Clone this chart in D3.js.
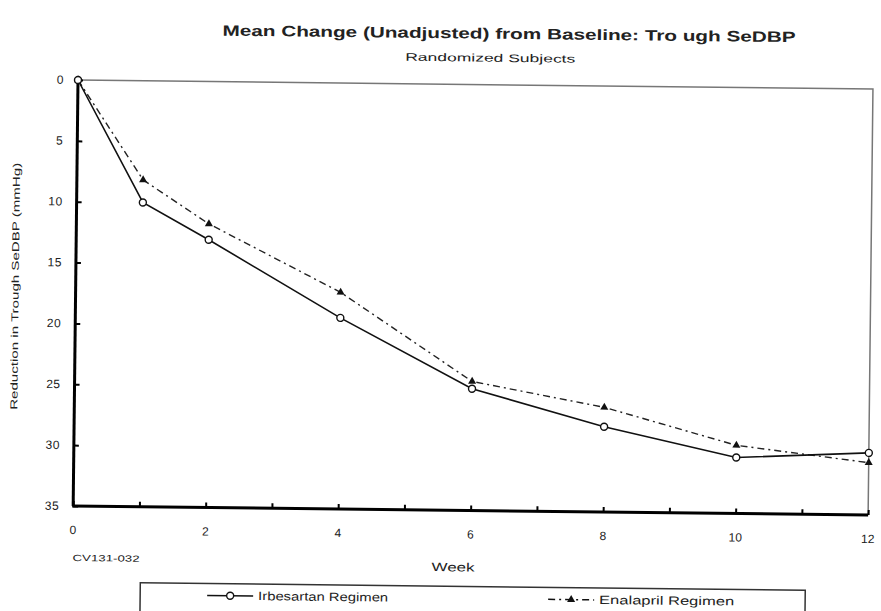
<!DOCTYPE html>
<html>
<head>
<meta charset="utf-8">
<script src="https://cdn.jsdelivr.net/npm/d3@7"></script>
<style>
  body { margin: 0; background: #fff; }
  text { font-family: "Liberation Sans", Arial, sans-serif; fill: #222; }
</style>
</head>
<body>
<div id="chart"></div>
<script>
// Data
var weeks = [0, 1, 2, 4, 6, 8, 10, 12];
var irbesartan = [0, 10.0, 13.0, 19.3, 25.0, 28.0, 30.4, 29.9];
var enalapril = [0, 8.15, 11.7, 17.2, 24.4, 26.4, 29.4, 30.7];
var seriesNames = ["Irbesartan Regimen", "Enalapril Regimen"];
var xTickLabels = [0, 2, 4, 6, 8, 10, 12];
var yTickLabels = [0, 5, 10, 15, 20, 25, 30, 35];

var width = 881;
var height = 611;

// plot box (window.top is taken, so prefix these)
var boxLeft = 78, boxTop = 80, boxRight = 873, boxBottom = 506;

var svg = d3.select("#chart")
    .append("svg")
    .attr("width", width)
    .attr("height", height);

// the scan is a little tilted, so the whole page is turned with it
var page = svg.append("g")
    .attr("transform", "rotate(0.65," + boxLeft + "," + boxTop + ")");

var x = d3.scaleLinear().domain([0, 12]).range([boxLeft, boxRight]);
var y = d3.scaleLinear().domain([0, 35]).range([boxTop, boxBottom]);

// the scanned lettering is wide, so stretch text to the widths seen
function addText(sel, str, px, size, len) {
    var t = sel.append("text")
        .attr("x", px[0])
        .attr("y", px[1])
        .style("font-size", size + "px")
        .text(str);
    if (len) t.attr("textLength", len).attr("lengthAdjust", "spacingAndGlyphs");
    return t;
}

// Title
addText(page, "Mean Change (Unadjusted) from Baseline: Tro ugh SeDBP", [222, 34], 15, 573)
    .style("font-weight", "bold");

addText(page, "Randomized Subjects", [405, 57], 11, 170);

// thin grey border on top and right
page.append("path")
    .attr("d", "M" + boxLeft + "," + boxTop + "H" + boxRight + "V" + boxBottom)
    .attr("fill", "none")
    .attr("stroke", "#777")
    .attr("stroke-width", 1.5);

// Axes
var xAxis = d3.axisTop(x)
    .tickValues(d3.range(0, 13))
    .tickSize(5)
    .tickFormat("");

var yAxis = d3.axisRight(y)
    .tickValues(yTickLabels)
    .tickSize(5)
    .tickFormat("");

var gx = page.append("g")
    .attr("transform", "translate(0," + boxBottom + ")")
    .call(xAxis);

var gy = page.append("g")
    .attr("transform", "translate(" + boxLeft + ",0)")
    .call(yAxis);

[gx, gy].forEach(function (g) {
    g.select(".domain").attr("stroke", "#000").attr("stroke-width", 3);
    g.selectAll(".tick line").attr("stroke", "#000").attr("stroke-width", 2);
});
gx.select(".domain").attr("d", "M" + (boxLeft - 1) + ",0H" + boxRight);
gy.select(".domain").attr("d", "M0," + boxTop + "V" + boxBottom);

// tick labels
page.append("g")
    .selectAll("text")
    .data(xTickLabels)
    .join("text")
    .attr("x", function (d) { return x(d); })
    .attr("y", boxBottom + 28)
    .attr("text-anchor", "middle")
    .style("font-size", "12px")
    .text(function (d) { return d; });

page.append("g")
    .selectAll("text")
    .data(yTickLabels)
    .join("text")
    .attr("x", boxLeft - 14)
    .attr("y", function (d) { return y(d) + 4; })
    .attr("text-anchor", "end")
    .style("font-size", "12px")
    .style("letter-spacing", "0.5px")
    .text(function (d) { return d; });

// axis titles
addText(page, "Week", [437, 567], 12, 43);
addText(page, "CV131-032", [78, 561], 9, 67);

addText(page, "Reduction in Trough SeDBP (mmHg)", [0, 0], 10, 247)
    .attr("text-anchor", "middle")
    .attr("transform", "translate(21,287) rotate(-90)");

// Lines
var line = d3.line()
    .x(function (d) { return x(d[0]); })
    .y(function (d) { return y(d[1]); });

var irbPts = d3.zip(weeks, irbesartan);
var enaPts = d3.zip(weeks, enalapril);

page.append("path")
    .datum(enaPts)
    .attr("d", line)
    .attr("fill", "none")
    .attr("stroke", "#222")
    .attr("stroke-width", 1.4)
    .attr("stroke-dasharray", "7,4,2,4");

page.append("path")
    .datum(irbPts)
    .attr("d", line)
    .attr("fill", "none")
    .attr("stroke", "#111")
    .attr("stroke-width", 1.6);

var tri = d3.symbol().type(d3.symbolTriangle).size(28);

page.append("g")
    .selectAll("path")
    .data(enaPts)
    .join("path")
    .attr("d", tri)
    .attr("transform", function (d) { return "translate(" + x(d[0]) + "," + y(d[1]) + ")"; })
    .attr("fill", "#111");

page.append("g")
    .selectAll("circle")
    .data(irbPts)
    .join("circle")
    .attr("cx", function (d) { return x(d[0]); })
    .attr("cy", function (d) { return y(d[1]); })
    .attr("r", 3.5)
    .attr("fill", "#fff")
    .attr("stroke", "#111")
    .attr("stroke-width", 1.4);

// Legend
var legend = page.append("g");

legend.append("rect")
    .attr("x", 146)
    .attr("y", 582)
    .attr("width", 665)
    .attr("height", 40)
    .attr("fill", "none")
    .attr("stroke", "#333")
    .attr("stroke-width", 1.5);

var legendX = [213, 554];
var legendLen = [130, 135];

legend.selectAll(".lline")
    .data(seriesNames)
    .join("line")
    .attr("class", "lline")
    .attr("x1", function (d, i) { return legendX[i]; })
    .attr("x2", function (d, i) { return legendX[i] + 46; })
    .attr("y1", 594)
    .attr("y2", 594)
    .attr("stroke", "#111")
    .attr("stroke-width", 1.5)
    .attr("stroke-dasharray", function (d, i) { return i ? "7,4,2,4" : null; });

legend.append("circle")
    .attr("cx", legendX[0] + 23)
    .attr("cy", 594)
    .attr("r", 3.5)
    .attr("fill", "#fff")
    .attr("stroke", "#111")
    .attr("stroke-width", 1.4);

legend.append("path")
    .attr("d", tri)
    .attr("transform", "translate(" + (legendX[1] + 23) + ",594)")
    .attr("fill", "#111");

legend.selectAll(".ltext")
    .data(seriesNames)
    .join("text")
    .attr("class", "ltext")
    .attr("x", function (d, i) { return legendX[i] + 51; })
    .attr("y", 598)
    .attr("textLength", function (d, i) { return legendLen[i]; })
    .attr("lengthAdjust", "spacingAndGlyphs")
    .style("font-size", "12px")
    .text(function (d) { return d; });
</script>
</body>
</html>
